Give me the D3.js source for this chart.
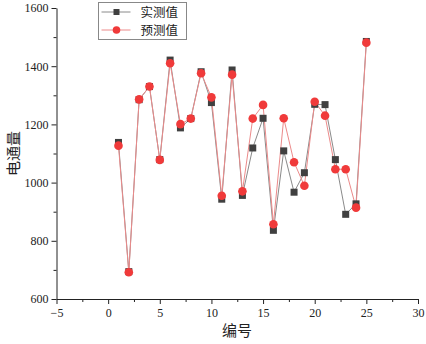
<!DOCTYPE html>
<html>
<head>
<meta charset="utf-8">
<script src="https://cdn.jsdelivr.net/npm/d3@7"></script>
<style>
  body { margin: 0; background: #fff; }
  .domain, .tick line { stroke: #222; }
  .cjk { font-family: "Noto Sans CJK SC", sans-serif; fill: #222; }
</style>
</head>
<body>
<svg id="chart" width="426" height="344"></svg>
<script>
// sample index
let ids = d3.range(1, 26)
// measured values
let measured = [1138, 694, 1285, 1330, 1079, 1421, 1188, 1220, 1381, 1275,
  943, 1387, 956, 1119, 1221, 836, 1109, 967, 1034, 1269,
  1268, 1079, 891, 927, 1485]
// predicted values
let predicted = [1127, 692, 1286, 1330, 1078, 1410, 1201, 1220, 1376, 1293,
  955, 1371, 970, 1220, 1267, 857, 1221, 1070, 989, 1278,
  1230, 1046, 1046, 914, 1481]
let x_ticks = [-5, 0, 5, 10, 15, 20, 25, 30]
let y_ticks = [600, 800, 1000, 1200, 1400, 1600]
let series_names = ["实测值", "预测值"]

let svg = d3.select("#chart")

let scales = {
  x: d3.scaleLinear().domain([-5, 30]).range([56.5, 418]),
  y: d3.scaleLinear().domain([600, 1600]).range([299, 8])
}

function serif_ticks(g) {
  g.selectAll(".tick text")
    .attr("font-family", "Liberation Serif")
    .attr("font-size", 12)
    .attr("fill", "#222")
}

// axes
let x_axis = d3.axisBottom(scales.x).tickValues(x_ticks).tickSize(5).tickSizeOuter(0).tickPadding(4)
  .tickFormat(d => d < 0 ? "\u2212" + Math.abs(d) : d)
svg.append("g")
  .attr("transform", `translate(0, ${scales.y(600)})`)
  .call(x_axis)
  .call(serif_ticks)

svg.append("g")
  .attr("transform", `translate(0, ${scales.y(600)})`)
  .call(d3.axisBottom(scales.x).tickValues(d3.range(-2.5, 30, 5)).tickSize(3).tickFormat(""))
  .call(g => g.select(".domain").remove())

let y_axis = d3.axisLeft(scales.y).tickValues(y_ticks).tickSize(5).tickSizeOuter(0).tickPadding(3)
  .tickFormat(d3.format("d"))
svg.append("g")
  .attr("transform", `translate(${scales.x(-5)}, 0)`)
  .call(y_axis)
  .call(serif_ticks)

svg.append("g")
  .attr("transform", `translate(${scales.x(-5)}, 0)`)
  .call(d3.axisLeft(scales.y).tickValues(d3.range(700, 1600, 200)).tickSize(3).tickFormat(""))
  .call(g => g.select(".domain").remove())

// axis titles
svg.append("text").attr("class", "cjk")
  .attr("x", 237).attr("y", 336)
  .attr("text-anchor", "middle").attr("font-size", 15)
  .text("编号")

svg.append("text").attr("class", "cjk")
  .attr("transform", `translate(19, ${scales.y(1100)}) rotate(-90)`)
  .attr("text-anchor", "middle").attr("font-size", 15)
  .text("电通量")

// lines
let line_gen = d3.line().x((d, i) => scales.x(ids[i])).y(d => scales.y(d))

svg.append("path")
  .attr("d", line_gen(measured))
  .attr("fill", "none").attr("stroke", "#8a8a8a").attr("stroke-width", 1)

svg.append("path")
  .attr("d", line_gen(predicted))
  .attr("fill", "none").attr("stroke", "#ec8a8a").attr("stroke-width", 1)

// markers
svg.append("g").selectAll("rect")
  .data(measured).enter()
  .append("rect")
  .attr("x", (d, i) => scales.x(ids[i]) - 3.5)
  .attr("y", d => scales.y(d) - 3.5)
  .attr("width", 7).attr("height", 7)
  .attr("fill", "#404040")

svg.append("g").selectAll("circle")
  .data(predicted).enter()
  .append("circle")
  .attr("cx", (d, i) => scales.x(ids[i]))
  .attr("cy", d => scales.y(d))
  .attr("r", 4.3)
  .attr("fill", "#f03a3a")

// legend
let lg = svg.append("g").attr("transform", "translate(98.5, 2.5)")
lg.append("rect").attr("width", 88).attr("height", 37)
  .attr("fill", "#fff").attr("stroke", "#888").attr("stroke-width", 1)

lg.append("line").attr("x1", 3).attr("x2", 32).attr("y1", 9.5).attr("y2", 9.5)
  .attr("stroke", "#8a8a8a")
lg.append("rect").attr("x", 15).attr("y", 6.5).attr("width", 6).attr("height", 6).attr("fill", "#404040")
lg.append("line").attr("x1", 3).attr("x2", 32).attr("y1", 27.5).attr("y2", 27.5)
  .attr("stroke", "#ec8a8a")
lg.append("circle").attr("cx", 18).attr("cy", 27.5).attr("r", 3.8).attr("fill", "#f03a3a")

lg.selectAll("text.lab")
  .data(series_names).enter()
  .append("text")
  .attr("class", "cjk")
  .attr("x", 42)
  .attr("y", (d, i) => 9.5 + i * 18)
  .attr("dy", "0.36em")
  .attr("font-size", 12.5)
  .text(d => d)
</script>
</body>
</html>
